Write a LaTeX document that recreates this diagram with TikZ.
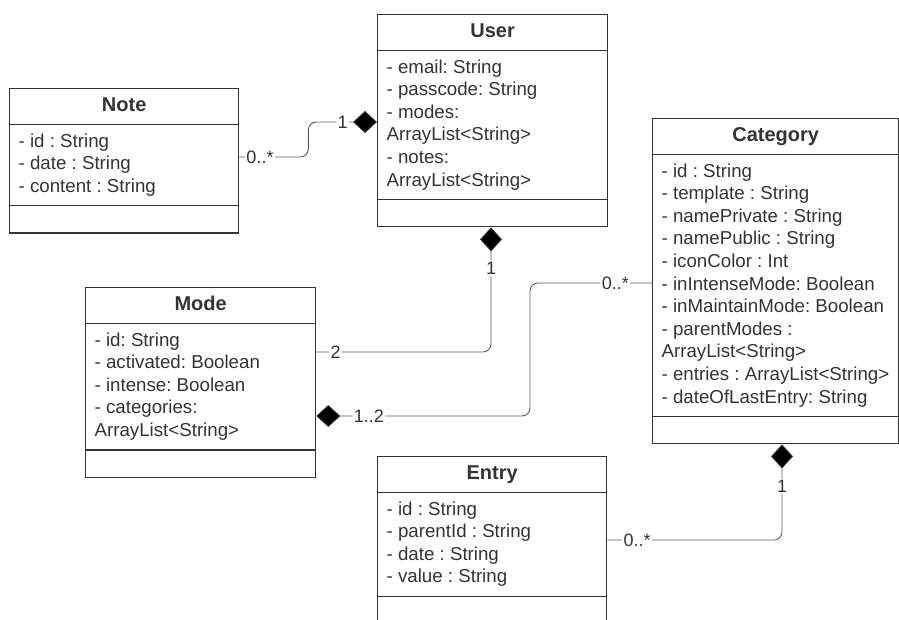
\documentclass[tikz,border=0pt]{standalone}
\usepackage{fontspec}
\setmainfont{Liberation Sans}
\usetikzlibrary{arrows.meta,shapes.multipart,positioning,calc}
\definecolor{umldark}{HTML}{333333}
\definecolor{umllink}{HTML}{5A5A5A}
\frenchspacing
\tikzset{
	umlclass/.style={rectangle split, rectangle split parts=3,
		rectangle split part align={center,left,left},
		rectangle split empty part height=14pt, rectangle split empty part depth=0pt,
		draw=umldark, line width=1.3pt, text=umldark, align=left, anchor=north west,
		inner xsep=9pt, inner ysep=6pt, font=\fontsize{18.7}{22.6}\selectfont},
	link/.style={draw=umllink, line width=0.9pt, rounded corners=8pt},
	comp/.style={-{Diamond[length=24pt,width=22pt,color=umldark]}},
	mult/.style={fill=white, inner sep=1.5pt, text=umldark, font=\fontsize{18}{20}\selectfont}
}
\newcommand{\classname}[1]{{\fontsize{20}{22.6}\selectfont\bfseries\strut #1}}

\begin{document}
\begin{tikzpicture}[x=1pt, y=-1pt]
		\useasboundingbox (0,0) rectangle (899,619);
		\node[umlclass, minimum width=229pt] (note) at (9,88) {\classname{Note}
			\nodepart{two}\strut - id : String\\ - date : String\\ - content : String\strut};
		\node[umlclass, minimum width=230pt] (user) at (377,14) {\classname{User}
			\nodepart{two}\strut - email: String\\ - passcode: String\\ - modes:\\ ArrayList<String>\\ - notes:\\ ArrayList<String>\strut};
		\node[umlclass, minimum width=246pt] (category) at (652,118) {\classname{Category}
			\nodepart{two}\strut - id : String\\ - template : String\\ - namePrivate : String\\ - namePublic : String\\ - iconColor : Int\\ - inIntenseMode: Boolean\\ - inMaintainMode: Boolean\\ - parentModes :\\ ArrayList<String>\\ - entries : ArrayList<String>\\ - dateOfLastEntry: String\strut};
		\node[umlclass, minimum width=230pt] (mode) at (85,287) {\classname{Mode}
			\nodepart{two}\strut - id: String\\ - activated: Boolean\\ - intense: Boolean\\ - categories:\\ ArrayList<String>\strut};
		\node[umlclass, minimum width=229pt] (entry) at (377,456) {\classname{Entry}
			\nodepart{two}\strut - id : String\\ - parentId : String\\ - date : String\\ - value : String\strut};

		\draw[link, comp] ([yshift=-69pt]note.north east) -- node[mult, pos=0.3] {0..*} ++(69,0)
			|- node[mult, pos=0.75] {1} ([yshift=-108pt]user.north west);
		\draw[link, comp] ([yshift=-65pt]mode.north east) -| node[mult, pos=0.055] {2}
			node[mult, pos=0.835] {1} ([xshift=114pt]user.south west);
		\draw[link, comp] ([yshift=-165pt]category.north west) -- node[mult, pos=0.3] {0..*} ++(-122,0)
			|- node[mult, pos=0.877] {1..2} ([yshift=-129pt]mode.north east);
		\draw[link, comp] ([yshift=-84pt]entry.north east) -| node[mult, pos=0.085] {0..*}
			node[mult, pos=0.782] {1} ([xshift=130pt]category.south west);
\end{tikzpicture}
\end{document}
